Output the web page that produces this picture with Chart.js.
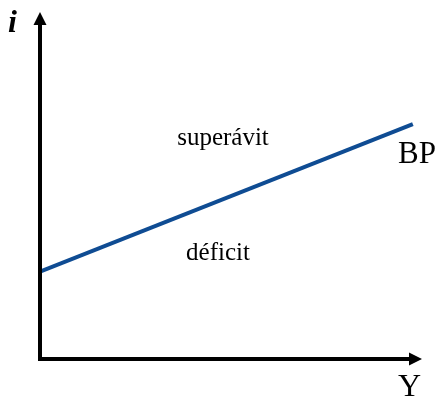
<!DOCTYPE html>
<html>
<head>
<meta charset="utf-8">
<script src="https://cdn.jsdelivr.net/npm/chart.js@4"></script>
<style>
  html, body { margin: 0; padding: 0; background: #fff; }
  canvas { display: block; }
</style>
</head>
<body>
<canvas id="bp-chart" width="440" height="398"></canvas>
<script>
// BP curve (income Y vs interest rate i)
const bpY = [0, 9.76];
const bpI = [2.52, 6.77];
const regionLabels = ['superávit', 'déficit'];
const curveLabel = 'BP';
const xAxisLabel = 'Y';
const yAxisLabel = 'i';

// axes with arrows + text labels, drawn from the scales
const axesPlugin = {
  id: 'axes',
  afterDatasetsDraw(chart) {
    const ctx = chart.ctx;
    const x = chart.scales.x, y = chart.scales.y;
    const x0 = x.getPixelForValue(0), y0 = y.getPixelForValue(0);
    const xEnd = x.getPixelForValue(x.max), yEnd = y.getPixelForValue(y.max);
    ctx.save();
    ctx.strokeStyle = '#000';
    ctx.fillStyle = '#000';
    ctx.lineWidth = 4;
    ctx.lineJoin = 'miter';
    ctx.beginPath();
    ctx.moveTo(x0, yEnd + 10);
    ctx.lineTo(x0, y0);
    ctx.lineTo(xEnd - 10, y0);
    ctx.stroke();
    // arrow heads
    ctx.beginPath();
    ctx.moveTo(x0, yEnd);
    ctx.lineTo(x0 - 6.5, yEnd + 13);
    ctx.lineTo(x0 + 6.5, yEnd + 13);
    ctx.closePath();
    ctx.fill();
    ctx.beginPath();
    ctx.moveTo(xEnd, y0);
    ctx.lineTo(xEnd - 13, y0 - 6.5);
    ctx.lineTo(xEnd - 13, y0 + 6.5);
    ctx.closePath();
    ctx.fill();

    ctx.textBaseline = 'alphabetic';
    ctx.font = '25px "Liberation Serif", "Times New Roman", serif';
    ctx.textAlign = 'center';
    ctx.fillText(regionLabels[0], 223, 145);
    ctx.fillText(regionLabels[1], 218, 260);
    ctx.textAlign = 'left';
    ctx.font = '31px "Liberation Serif", "Times New Roman", serif';
    ctx.fillText(curveLabel, 398, 163);
    ctx.font = '32px "Liberation Serif", "Times New Roman", serif';
    ctx.fillText(xAxisLabel, 398, 396);
    ctx.font = 'italic bold 32px "Liberation Serif", "Times New Roman", serif';
    ctx.fillText(yAxisLabel, 8, 32);
    ctx.restore();
  }
};

const ctx = document.getElementById('bp-chart').getContext('2d');
const bpChart = new Chart(ctx, {
  type: 'scatter',
  data: {
    datasets: [{
      label: curveLabel,
      data: bpY.map((v, k) => ({ x: v, y: bpI[k] })),
      showLine: true,
      borderColor: '#0f4c93',
      borderWidth: 4,
      pointRadius: 0,
      fill: false
    }]
  },
  options: {
    responsive: false,
    animation: false,
    layout: { padding: { left: 40, right: 18, top: 12, bottom: 39 } },
    plugins: {
      legend: { display: false },
      tooltip: { enabled: false }
    },
    scales: {
      x: { type: 'linear', min: 0, max: 10, display: false },
      y: { type: 'linear', min: 0, max: 10, display: false }
    }
  },
  plugins: [axesPlugin]
});
</script>
</body>
</html>
